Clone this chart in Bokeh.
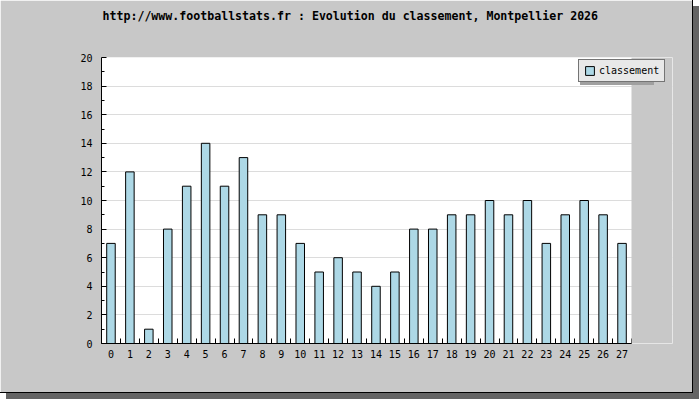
from bokeh.plotting import figure
from bokeh.models import FixedTicker, Range1d, BoxAnnotation, Legend, LegendItem, Title
from bokeh.embed import file_html
from bokeh.resources import INLINE

title_text = "http://www.footballstats.fr : Evolution du classement, Montpellier 2026"
rounds = list(range(28))
classement = [7, 12, 1, 8, 11, 14, 11, 13, 9, 9, 7, 5, 6, 5, 4, 5, 8, 8, 9, 9, 10, 9, 10, 7, 9, 10, 9, 7]
y_major = [0, 2, 4, 6, 8, 10, 12, 14, 16, 18, 20]
y_minor = [1, 3, 5, 7, 9, 11, 13, 15, 17, 19]
series_name = "classement"

MONO = "DejaVu Sans Mono"
GRAY = "#c8c8c8"

# plot area: 530 px for the categories, plus 41 px of grey room for the legend
x_lo = rounds[0] - 0.5
x_hi = rounds[-1] + 0.5
extra = 41 * (x_hi - x_lo) / 530.0

p = figure(width=693, height=393,
           x_range=Range1d(x_lo, x_hi + extra),
           y_range=Range1d(y_major[0], y_major[-1]),
           output_backend="svg", toolbar_location=None,
           min_border_left=101, min_border_right=21,
           min_border_top=57, min_border_bottom=50,
           background_fill_color="white", border_fill_color=GRAY,
           outline_line_color=None)
p.styles = {"border-right": "1px solid black", "border-bottom": "1px solid black",
            "box-shadow": "6px 6px 0 0 #646464"}
p.title = None

# spacer between the title and the plot area, then the title itself
p.add_layout(Title(text=" ", text_font=MONO, text_font_size="11.6px", standoff=13), "above")
p.add_layout(Title(text=title_text, align="left", offset=1, standoff=12,
                   text_font=MONO, text_font_size="11.6px",
                   text_font_style="bold", text_color="black"), "above")

# grey strip right of the last category (room for the legend)
p.add_layout(BoxAnnotation(left=x_hi, fill_color=GRAY, fill_alpha=1,
                           line_color=None))

# legend shadow
ghost = p.vbar(x=[], top=[], width=0.45, fill_alpha=0, line_alpha=0)
shadow = Legend(items=[LegendItem(label=" ", renderers=[ghost])],
                location=(479, 258), border_line_color=None,
                background_fill_color="#a0a0a0", background_fill_alpha=1,
                label_text_font=MONO, label_text_font_size="10px",
                glyph_width=11, glyph_height=11, label_height=11, label_width=60,
                label_standoff=3, padding=5, margin=0)
p.add_layout(shadow)

bars = p.vbar(x=rounds, top=classement, width=0.45, fill_color="#add8e6",
              line_color="black", line_width=1)
lg = Legend(items=[LegendItem(label=series_name, renderers=[bars])],
            location=(477, 261), border_line_color="black", border_line_width=1,
            background_fill_color="#e8e8e8", background_fill_alpha=1,
            label_text_font=MONO, label_text_font_size="10px",
            label_text_color="black",
            glyph_width=11, glyph_height=11, label_height=11,
            label_standoff=4, padding=5, margin=0)
p.add_layout(lg)

xa = p.xaxis[0]
xa.ticker = FixedTicker(ticks=rounds, minor_ticks=[r - 0.5 for r in rounds] + [x_hi])
xa.bounds = (x_lo, x_hi)
xa.major_tick_in = 0
xa.major_tick_out = 0
xa.minor_tick_in = 5
xa.minor_tick_out = 0
xa.minor_tick_line_color = "black"
xa.axis_line_color = "black"
xa.major_label_standoff = 6
xa.major_label_text_font = MONO
xa.major_label_text_font_size = "10px"
xa.major_label_text_color = "black"

ya = p.yaxis[0]
ya.ticker = FixedTicker(ticks=y_major, minor_ticks=y_minor)
ya.major_tick_in = 5
ya.major_tick_out = 0
ya.minor_tick_in = 3
ya.minor_tick_out = 0
ya.major_tick_line_color = "black"
ya.minor_tick_line_color = "black"
ya.axis_line_color = "black"
ya.major_label_standoff = 9
ya.major_label_text_font = MONO
ya.major_label_text_font_size = "10px"
ya.major_label_text_color = "black"

p.xgrid.visible = False
p.ygrid.grid_line_color = "#dcdcdc"

open("out.html", "w").write(file_html(p, INLINE))
